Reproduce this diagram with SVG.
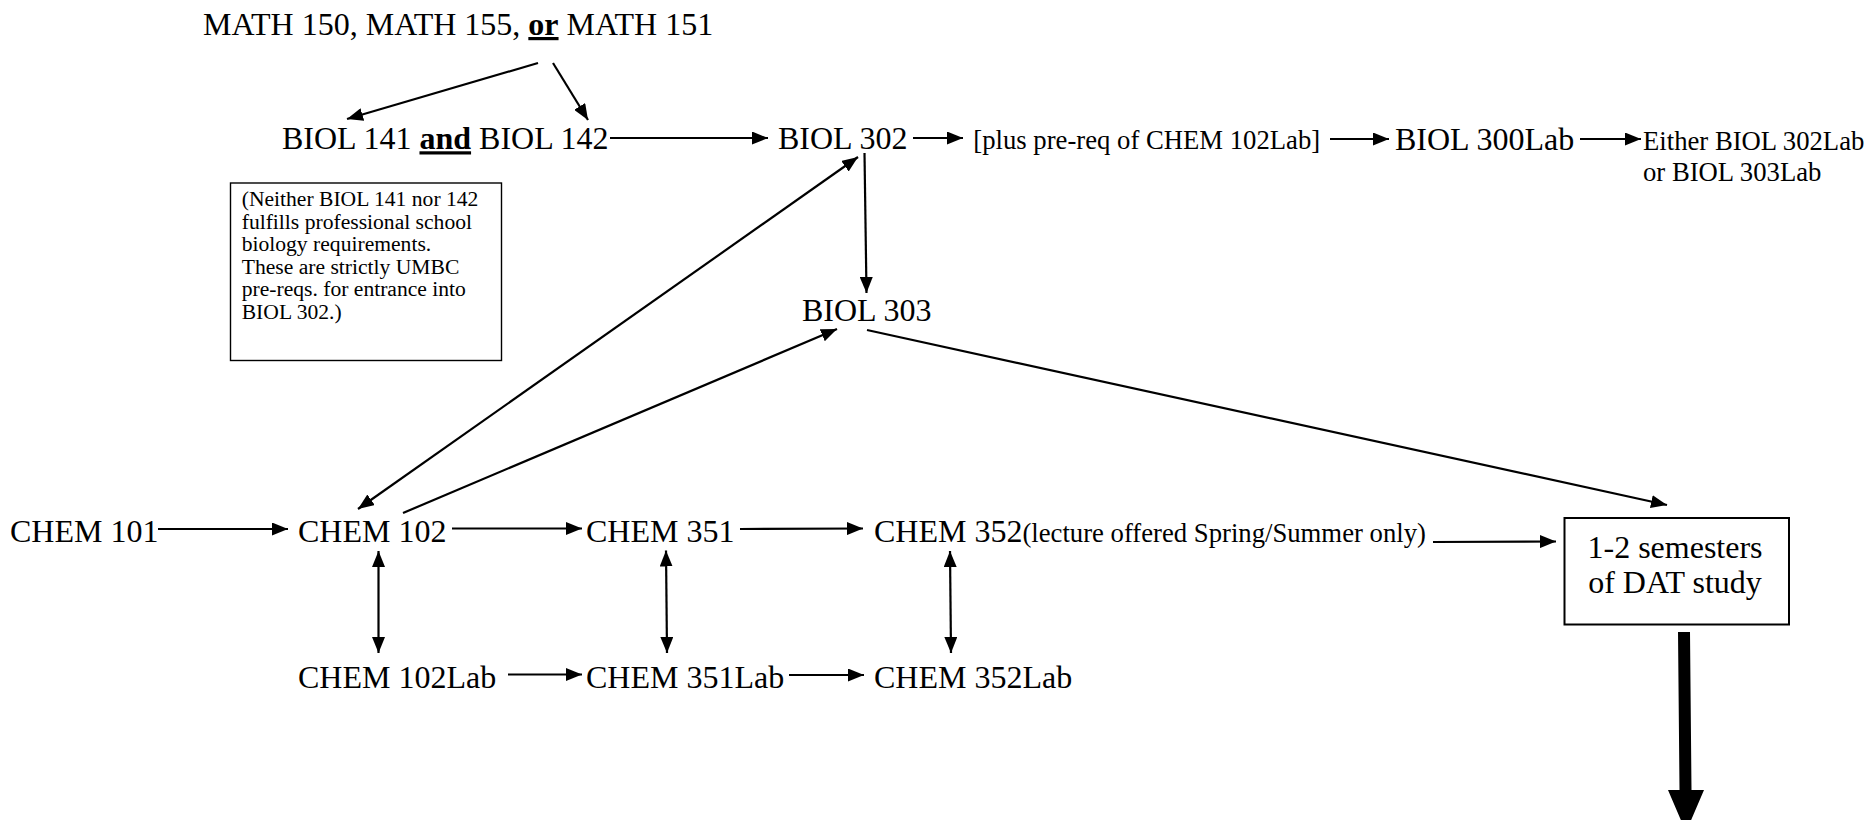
<svg xmlns="http://www.w3.org/2000/svg" width="1868" height="820" viewBox="0 0 1868 820">
<style>
text{font-family:"Liberation Serif","Times New Roman","DejaVu Serif",serif;fill:#000}
.m{font-size:32px}
.s{font-size:26.7px}
.n{font-size:21.6px}
.b{font-family:"Liberation Serif","Times New Roman",serif;font-weight:700;text-decoration:underline}
.c{stroke:#000;stroke-width:2.2;fill:none;marker-end:url(#ah)}
.d{stroke:#000;stroke-width:2.2;fill:none;marker-start:url(#ah);marker-end:url(#ah)}
.box{fill:#fff;stroke:#000}
</style>
<defs>
<marker id="ah" markerUnits="userSpaceOnUse" markerWidth="16" markerHeight="13" refX="16" refY="6.5" orient="auto-start-reverse" viewBox="0 0 16 13">
<path d="M0,0 L16,6.5 L0,13 z" fill="#000"/>
</marker>
</defs>
<rect width="1868" height="820" fill="#fff"/>
<g id="connectors">
<line class="c" x1="538" y1="63" x2="347" y2="119"/>
<line class="c" x1="553" y1="63" x2="588" y2="120"/>
<line class="c" x1="610" y1="138" x2="768" y2="138"/>
<line class="c" x1="913" y1="138" x2="963" y2="138"/>
<line class="c" x1="1330" y1="139" x2="1389" y2="139"/>
<line class="c" x1="1580" y1="139" x2="1641" y2="139"/>
<line class="c" x1="864.5" y1="153" x2="866.5" y2="293"/>
<line class="d" x1="358" y1="509" x2="858" y2="157"/>
<line class="c" x1="403" y1="513" x2="837" y2="329"/>
<line class="c" x1="867" y1="330" x2="1667" y2="505"/>
<line class="c" x1="158" y1="529" x2="288" y2="529"/>
<line class="c" x1="452" y1="528.5" x2="582" y2="528.5"/>
<line class="c" x1="740" y1="529" x2="863" y2="528.5"/>
<line class="c" x1="1433" y1="542" x2="1556" y2="541.5"/>
<line class="d" x1="378.5" y1="551" x2="378.5" y2="653"/>
<line class="d" x1="666" y1="550.5" x2="667" y2="653"/>
<line class="d" x1="950" y1="551" x2="951" y2="653"/>
<line class="c" x1="508" y1="674.5" x2="582" y2="674.5"/>
<line class="c" x1="789" y1="675" x2="864" y2="675"/>
<path d="M1678,632 L1690,632 L1691.5,790 L1704,790 L1686,832 L1668,790 L1679.5,790 z" fill="#000"/>
</g>
<g id="math"><text class="m" x="203" y="35">MATH 150, MATH 155, <tspan class="b">or</tspan> MATH 151</text></g>
<g id="biol141"><text class="m" x="282" y="149.3">BIOL 141 <tspan class="b">and</tspan> BIOL 142</text></g>
<g id="note">
<rect class="box" x="230.5" y="183" width="271" height="177.5" stroke-width="1.4"/>
<text class="n" x="241.7" y="206">(Neither BIOL 141 nor 142</text>
<text class="n" x="241.7" y="228.5">fulfills professional school</text>
<text class="n" x="241.7" y="251">biology requirements.</text>
<text class="n" x="241.7" y="273.5">These are strictly UMBC</text>
<text class="n" x="241.7" y="296">pre-reqs. for entrance into</text>
<text class="n" x="241.7" y="318.5">BIOL 302.)</text>
</g>
<g id="biol302"><text class="m" x="778" y="149.3">BIOL 302</text></g>
<g id="prereq"><text class="s" x="973.3" y="149.3">[plus pre-req of CHEM 102Lab]</text></g>
<g id="biol300lab"><text class="m" x="1395" y="150">BIOL 300Lab</text></g>
<g id="either">
<text class="s" x="1643" y="149.5">Either BIOL 302Lab</text>
<text class="s" x="1643" y="181">or BIOL 303Lab</text>
</g>
<g id="biol303"><text class="m" x="802" y="321">BIOL 303</text></g>
<g id="chem101"><text class="m" x="10" y="541.7">CHEM 101</text></g>
<g id="chem102"><text class="m" x="298" y="541.7">CHEM 102</text></g>
<g id="chem351"><text class="m" x="586" y="541.7">CHEM 351</text></g>
<g id="chem352"><text class="m" x="874" y="541.7">CHEM 352<tspan class="s">(lecture offered Spring/Summer only)</tspan></text></g>
<g id="chem102lab"><text class="m" x="298" y="688.3">CHEM 102Lab</text></g>
<g id="chem351lab"><text class="m" x="586" y="688.3">CHEM 351Lab</text></g>
<g id="chem352lab"><text class="m" x="874" y="688.3">CHEM 352Lab</text></g>
<g id="dat">
<rect class="box" x="1564.5" y="518" width="224.5" height="106.5" stroke-width="2"/>
<text class="m" x="1675" y="557.7" text-anchor="middle">1-2 semesters</text>
<text class="m" x="1675" y="592.7" text-anchor="middle">of DAT study</text>
</g>
</svg>
